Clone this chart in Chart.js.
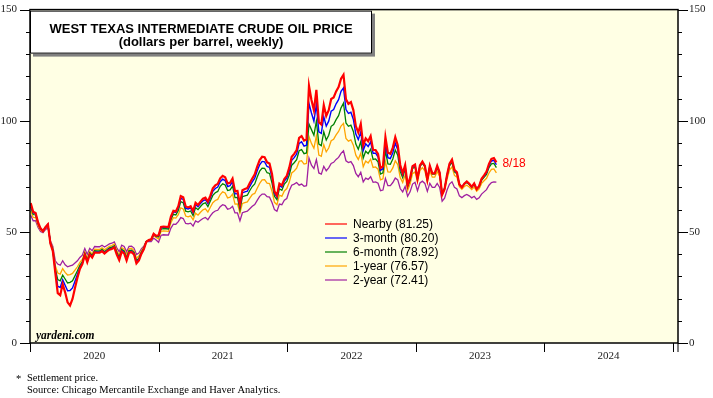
<!DOCTYPE html>
<html>
<head>
<meta charset="utf-8">
<script src="https://cdn.jsdelivr.net/npm/chart.js@4/dist/chart.umd.min.js"></script>
<style>
html, body { margin: 0; padding: 0; background: #fff; }
#wrap { width: 713px; height: 398px; }
</style>
</head>
<body>
<div id="wrap"><canvas id="oilChart" width="713" height="398"></canvas></div>
<script>
// weekly (Friday) settlement prices, first week 2020-01-03, last 2023-08-18
const firstWeek = Date.UTC(2020, 0, 3);

const nearby = [
  63.0, 59.0, 58.5, 54.2, 51.6, 50.3, 52.1, 53.4, 44.8, 41.3, 31.7, 22.4, 21.5, 26.5, 22.8, 18.3, 16.9, 19.8, 24.7, 29.4,
  33.3, 35.5, 39.6, 36.3, 39.8, 38.5, 40.7, 40.6, 40.6, 41.3, 40.3, 41.2, 42.0, 42.3, 43.0, 39.8, 37.3, 41.1, 40.3, 37.1,
  40.6, 40.9, 39.9, 35.8, 37.1, 40.1, 42.2, 45.5, 46.3, 46.6, 49.1, 48.2,
  48.5, 52.2, 52.4, 52.3, 52.2, 56.9, 59.5, 59.2, 61.5, 66.1, 65.6, 61.4, 61.0, 61.5, 59.3, 63.1, 62.1, 63.6, 64.9, 65.4,
  63.6, 66.3, 69.6, 70.9, 71.6, 74.1, 75.2, 74.6, 71.8, 72.1, 74.0, 68.3, 68.4, 62.3, 68.7, 69.3, 69.7, 72.0, 74.0, 75.9,
  79.4, 82.3, 83.8, 83.6, 81.3, 80.8, 76.1, 68.2, 66.3, 71.7, 70.9, 73.8, 75.2,
  78.9, 83.8, 85.1, 86.8, 92.3, 93.1, 91.1, 91.6, 115.7, 109.3, 104.7, 113.9, 99.3, 98.3, 107.0, 102.1, 104.7, 109.8, 110.5, 113.2,
  115.1, 118.9, 120.7, 109.6, 107.6, 108.4, 104.8, 97.6, 94.7, 98.6, 89.0, 92.1, 90.8, 93.1, 86.9, 86.8, 85.1, 78.7, 79.5, 92.6,
  85.6, 85.1, 87.9, 92.6, 89.0, 80.1, 76.3, 80.0, 71.0, 74.3, 79.6, 80.3,
  73.8, 79.9, 81.6, 79.7, 73.4, 79.7, 76.3, 76.3, 79.7, 76.7, 66.7, 69.3, 75.7, 80.7, 82.5, 77.9, 76.8, 71.3, 70.0, 71.7,
  72.7, 71.7, 70.2, 71.8, 69.2, 70.6, 73.9, 75.4, 77.1, 80.6, 82.8, 83.2, 81.25
];

const threeMonth = [
  62.4, 58.6, 58.2, 54.0, 51.5, 50.3, 52.1, 53.4, 44.9, 41.6, 32.4, 25.5, 25.0, 28.5, 26.0, 23.5, 23.6, 24.8, 27.8, 30.8,
  33.8, 35.8, 39.8, 36.6, 40.1, 38.8, 41.0, 40.9, 40.9, 41.6, 40.6, 41.5, 42.3, 42.6, 43.3, 40.2, 37.8, 41.5, 40.7, 37.6,
  41.0, 41.3, 40.3, 36.3, 37.5, 40.4, 42.4, 45.6, 46.3, 46.6, 49.0, 48.1,
  48.3, 51.9, 52.1, 52.0, 51.9, 56.5, 59.0, 58.7, 60.8, 65.1, 64.6, 60.6, 60.3, 60.8, 58.6, 62.3, 61.3, 62.8, 64.0, 64.5,
  62.8, 65.4, 68.3, 69.5, 70.2, 72.6, 73.7, 73.1, 70.4, 70.8, 72.6, 67.1, 67.2, 61.4, 67.5, 68.0, 68.3, 70.5, 72.5, 74.2,
  77.5, 80.2, 81.7, 81.5, 79.4, 79.0, 74.7, 67.4, 65.6, 70.8, 70.1, 72.9, 74.2,
  77.5, 82.2, 83.4, 85.0, 89.8, 90.5, 88.6, 89.0, 107.8, 103.5, 99.8, 107.3, 95.0, 94.3, 101.8, 97.6, 99.8, 104.3, 105.0, 107.6,
  109.5, 113.2, 114.8, 105.0, 103.3, 103.8, 100.6, 94.0, 91.5, 95.0, 86.6, 89.6, 88.4, 90.5, 85.4, 85.4, 83.8, 77.7, 78.4, 89.8,
  83.4, 83.0, 85.6, 89.9, 87.0, 79.0, 75.6, 79.5, 70.8, 74.0, 79.3, 80.0,
  73.9, 79.8, 81.4, 79.6, 73.5, 79.6, 76.3, 76.3, 79.5, 76.6, 67.0, 69.5, 75.6, 80.4, 82.1, 77.6, 76.6, 71.4, 70.2, 71.7,
  72.6, 71.6, 70.2, 71.7, 69.3, 70.6, 73.7, 75.1, 76.6, 79.9, 81.9, 82.2, 80.20
];

const sixMonth = [
  61.2, 57.8, 57.6, 53.6, 51.3, 50.2, 52.0, 53.3, 45.2, 42.0, 33.3, 28.5, 28.0, 30.5, 28.8, 27.0, 27.3, 28.0, 30.2, 32.5,
  35.0, 36.6, 40.3, 37.1, 40.6, 39.3, 41.5, 41.4, 41.4, 42.1, 41.1, 42.0, 42.8, 43.1, 43.8, 40.8, 38.5, 42.1, 41.3, 38.3,
  41.6, 41.8, 40.8, 37.0, 38.1, 40.8, 42.7, 45.7, 46.3, 46.5, 48.8, 47.9,
  47.8, 51.3, 51.5, 51.4, 51.3, 55.5, 57.9, 57.6, 59.6, 63.6, 63.1, 59.3, 59.0, 59.4, 57.3, 60.9, 60.0, 61.4, 62.6, 63.1,
  61.4, 63.9, 66.4, 67.6, 68.2, 70.5, 71.6, 71.1, 68.6, 68.9, 70.6, 65.4, 65.5, 59.8, 65.8, 66.2, 66.5, 68.6, 70.4, 71.6,
  74.7, 77.3, 78.7, 78.6, 76.6, 76.3, 72.0, 66.0, 64.5, 69.4, 68.7, 71.5, 72.7,
  75.6, 80.0, 81.1, 82.5, 86.5, 87.0, 85.2, 85.5, 98.5, 96.0, 93.5, 99.8, 89.5, 88.8, 95.0, 91.3, 93.5, 97.5, 98.3, 100.5,
  102.3, 105.8, 107.9, 99.0, 97.5, 98.0, 95.2, 89.5, 87.2, 90.6, 83.2, 86.3, 85.2, 87.2, 82.6, 82.8, 81.5, 76.0, 76.6, 86.5,
  80.6, 80.4, 82.8, 86.8, 84.5, 77.2, 74.4, 78.4, 70.2, 73.3, 78.5, 79.2,
  73.9, 79.4, 80.9, 79.2, 73.5, 79.2, 76.0, 76.0, 79.0, 76.3, 67.3, 69.7, 75.2, 79.7, 81.3, 77.0, 76.1, 71.3, 70.1, 71.4,
  72.2, 71.3, 70.0, 71.4, 69.2, 70.4, 73.2, 74.5, 75.8, 78.9, 80.6, 80.8, 78.92
];

const oneYear = [
  59.5, 56.5, 56.4, 52.8, 50.8, 50.0, 51.7, 52.9, 45.5, 42.6, 34.8, 31.5, 31.0, 33.5, 31.8, 30.6, 30.8, 31.3, 32.8, 34.3,
  36.3, 37.6, 41.0, 38.0, 41.3, 40.0, 42.2, 42.1, 42.1, 42.8, 41.9, 42.7, 43.5, 43.8, 44.5, 41.6, 39.5, 42.9, 42.2, 39.5,
  42.4, 42.6, 41.6, 38.2, 39.1, 41.5, 43.2, 45.8, 46.2, 46.3, 48.4, 47.5,
  46.8, 50.2, 50.4, 50.3, 50.2, 54.1, 56.4, 56.2, 57.7, 60.8, 60.3, 57.1, 56.8, 57.2, 55.4, 58.4, 57.5, 58.8, 59.9, 60.4,
  58.9, 61.1, 63.1, 64.1, 64.6, 66.8, 68.0, 67.5, 65.3, 65.6, 67.0, 62.5, 62.6, 58.5, 62.8, 63.2, 63.5, 65.2, 66.8, 67.3,
  69.6, 71.8, 73.4, 73.5, 71.9, 71.7, 68.3, 63.3, 62.2, 66.5, 66.0, 68.4, 69.5,
  72.3, 76.5, 77.4, 78.7, 81.7, 82.0, 80.5, 80.8, 92.9, 89.8, 87.6, 93.2, 84.6, 84.0, 89.2, 86.0, 87.7, 91.0, 91.7, 93.6,
  95.2, 97.6, 98.8, 92.0, 90.8, 91.4, 89.0, 84.5, 82.6, 85.4, 79.3, 81.9, 81.0, 82.7, 79.0, 79.2, 78.2, 73.4, 73.9, 81.7,
  77.0, 76.9, 78.8, 82.0, 80.3, 74.4, 72.2, 75.7, 68.6, 71.5, 76.2, 77.0,
  72.5, 77.6, 78.9, 77.4, 72.4, 77.3, 74.6, 74.6, 77.2, 74.9, 66.5, 68.7, 73.8, 77.8, 79.2, 75.4, 74.6, 70.3, 69.2, 70.4,
  71.0, 70.2, 69.0, 70.2, 68.3, 69.4, 71.8, 73.0, 74.1, 76.5, 78.1, 78.3, 76.57
];

const twoYear = [
  57.5, 55.0, 55.0, 52.0, 50.2, 49.6, 51.0, 52.0, 46.0, 43.5, 37.0, 35.5, 35.0, 37.0, 35.2, 34.3, 34.7, 35.0, 36.0, 37.0,
  38.5, 39.5, 42.5, 39.8, 42.6, 41.5, 43.4, 43.3, 43.3, 44.0, 43.2, 43.9, 44.6, 44.9, 45.5, 42.8, 41.0, 44.0, 43.4, 41.0,
  43.5, 43.6, 42.7, 39.8, 40.5, 42.3, 43.6, 45.6, 45.7, 45.6, 47.2, 46.3,
  45.3, 48.5, 48.7, 48.6, 48.6, 51.7, 53.5, 53.4, 54.6, 56.4, 56.0, 53.8, 53.6, 53.9, 52.6, 54.9, 54.3, 55.2, 56.0, 56.5,
  55.5, 57.2, 58.6, 59.4, 59.7, 61.3, 62.2, 61.8, 60.2, 60.5, 61.5, 58.5, 58.5, 55.0, 58.6, 59.0, 59.3, 60.4, 61.5, 62.3,
  64.2, 66.0, 67.0, 67.0, 65.8, 65.6, 63.2, 60.0, 59.3, 62.5, 62.2, 64.2, 65.0,
  68.5, 71.0, 71.5, 72.2, 71.0, 71.5, 70.5, 70.8, 83.2, 80.0, 78.5, 82.5, 76.5, 76.0, 79.5, 77.5, 78.8, 80.8, 81.3, 82.6,
  83.5, 85.3, 86.5, 82.0, 81.2, 81.6, 79.8, 76.3, 74.8, 76.8, 72.5, 74.2, 73.6, 74.8, 72.3, 72.5, 71.9, 68.5, 68.8, 74.0,
  70.8, 70.8, 72.2, 74.2, 73.4, 69.5, 68.0, 70.4, 66.0, 68.0, 71.5, 72.3,
  68.5, 72.0, 72.8, 71.8, 68.2, 71.8, 70.0, 70.0, 71.8, 70.0, 63.8, 65.2, 68.8, 71.5, 72.5, 70.0, 69.3, 66.2, 65.4, 66.3,
  66.8, 66.2, 65.3, 66.0, 64.6, 65.3, 67.0, 68.0, 69.0, 71.0, 72.2, 72.5, 72.41
];

const seriesNames = ['Nearby (81.25)', '3-month (80.20)', '6-month (78.92)', '1-year (76.57)', '2-year (72.41)'];
const seriesColors = ['#ff0000', '#0000ff', '#008000', '#ffa500', '#a020a0'];
const seriesWidths = [2.2, 1.4, 1.3, 1.3, 1.3];
const yearTicks = [2020, 2021, 2022, 2023, 2024, 2025];
const yearLabels = ['2020', '2021', '2022', '2023', '2024'];
const lastDateLabel = '8/18';

function weekToYear(i) {
  const d = new Date(firstWeek + i * 7 * 86400000);
  const y = d.getUTCFullYear();
  const start = Date.UTC(y, 0, 1), end = Date.UTC(y + 1, 0, 1);
  return y + (d.getTime() - start) / (end - start);
}

function toPoints(values) {
  return values.map((v, i) => ({ x: weekToYear(i), y: v }));
}

const allSeries = [nearby, threeMonth, sixMonth, oneYear, twoYear];

const chartDecor = {
  id: 'chartDecor',
  beforeDraw(chart) {
    const { ctx, chartArea: a } = chart;
    ctx.save();
    ctx.fillStyle = '#ffffe4';
    ctx.fillRect(a.left, a.top, a.right - a.left, a.bottom - a.top);
    ctx.restore();
  },
  afterDatasetsDraw(chart) {
    const { ctx, chartArea: a, scales } = chart;
    ctx.save();

    // frame
    ctx.strokeStyle = '#000';
    ctx.lineWidth = 1.5;
    ctx.strokeRect(a.left, a.top, a.right - a.left, a.bottom - a.top);

    // y tick marks, both sides
    ctx.lineWidth = 1;
    ctx.beginPath();
    for (let v = 0; v <= 150; v += 10) {
      const y = Math.round(scales.y.getPixelForValue(v)) + 0.5;
      const len = v % 50 === 0 ? 10 : 4;
      ctx.moveTo(a.left - len, y); ctx.lineTo(a.left, y);
      ctx.moveTo(a.right, y); ctx.lineTo(a.right + len, y);
    }
    // year boundary tick marks
    yearTicks.forEach(t => {
      const x = Math.round(scales.x.getPixelForValue(t)) + 0.5;
      ctx.moveTo(x, a.bottom); ctx.lineTo(x, a.bottom + 9);
    });
    ctx.moveTo(a.right, a.bottom); ctx.lineTo(a.right, a.bottom + 9);
    ctx.stroke();

    // title box
    const bx = a.left, by = a.top + 1, bw = 342, bh = 43;
    ctx.fillStyle = '#808080';
    ctx.fillRect(bx + 3, by + 3, bw, bh);
    ctx.fillStyle = '#fff';
    ctx.fillRect(bx, by, bw, bh);
    ctx.strokeStyle = '#000';
    ctx.lineWidth = 1;
    ctx.strokeRect(bx + 0.5, by + 0.5, bw - 1, bh - 1);
    ctx.fillStyle = '#000';
    ctx.font = 'bold 13px "Liberation Sans", Arial, sans-serif';
    ctx.textAlign = 'center';
    ctx.textBaseline = 'alphabetic';
    ctx.fillText('WEST TEXAS INTERMEDIATE CRUDE OIL PRICE', bx + bw / 2, by + 22);
    ctx.fillText('(dollars per barrel, weekly)', bx + bw / 2, by + 35);

    // legend
    ctx.font = '12px "Liberation Sans", Arial, sans-serif';
    ctx.textAlign = 'left';
    ctx.textBaseline = 'middle';
    chart.data.datasets.forEach((ds, i) => {
      const ly = 224 + i * 14;
      ctx.strokeStyle = ds.borderColor;
      ctx.globalAlpha = 0.75;
      ctx.lineWidth = 1.6;
      ctx.beginPath();
      ctx.moveTo(325, ly); ctx.lineTo(347, ly);
      ctx.stroke();
      ctx.globalAlpha = 1;
      ctx.fillStyle = '#000';
      ctx.fillText(ds.label, 353, ly + 1);
    });

    // last date label next to the nearby line
    const meta = chart.getDatasetMeta(0);
    const last = meta.data[meta.data.length - 1];
    ctx.fillStyle = '#ff0000';
    ctx.fillText(lastDateLabel, last.x + 6, last.y + 1);

    // site mark
    ctx.fillStyle = '#000';
    ctx.font = 'bold italic 11.5px "Liberation Serif", "Times New Roman", serif';
    ctx.textBaseline = 'alphabetic';
    ctx.fillText('yardeni.com', a.left + 6, a.bottom - 4);

    // footnotes
    ctx.font = '10.5px "Liberation Serif", "Times New Roman", serif';
    ctx.fillText('*', 16, 382);
    ctx.fillText('Settlement price.', 27, 381);
    ctx.fillText('Source: Chicago Mercantile Exchange and Haver Analytics.', 27, 393);
    ctx.restore();
  }
};

const tickFont = { family: '"Liberation Serif", "Times New Roman", serif', size: 11 };

const chartNode = document.getElementById('oilChart').getContext('2d');
const oilChart = new Chart(chartNode, {
  type: 'line',
  data: {
    datasets: allSeries.map((values, i) => ({
      label: seriesNames[i],
      data: toPoints(values),
      borderColor: seriesColors[i],
      backgroundColor: seriesColors[i],
      borderWidth: seriesWidths[i],
      pointRadius: 0,
      tension: 0,
      fill: false
    }))
  },
  options: {
    responsive: false,
    animation: false,
    layout: { padding: { top: 7, left: 0, right: 0, bottom: 0 } },
    plugins: { legend: { display: false }, tooltip: { enabled: false } },
    scales: {
      x: {
        type: 'linear',
        position: 'bottom',
        min: 2020,
        max: 2025.04,
        grid: { display: false, drawTicks: true, tickLength: 5 },
        border: { display: false },
        afterBuildTicks: scale => {
          scale.ticks = yearLabels.map((l, i) => ({ value: yearTicks[i] + 0.5 }));
        },
        ticks: {
          autoSkip: false,
          maxRotation: 0,
          padding: 2,
          color: '#222',
          font: tickFont,
          callback: (v) => yearLabels[Math.floor(v) - yearTicks[0]]
        },
        afterFit: scale => { scale.height = 55; }
      },
      y: {
        position: 'left',
        min: 0,
        max: 150,
        grid: { display: false, drawTicks: true, tickLength: 10 },
        border: { display: false },
        ticks: { stepSize: 50, padding: 3, color: '#222', font: tickFont },
        afterFit: scale => { scale.width = 30; }
      },
      y2: {
        position: 'right',
        min: 0,
        max: 150,
        grid: { display: false, drawTicks: true, tickLength: 10 },
        border: { display: false },
        ticks: { stepSize: 50, padding: 1, color: '#222', font: tickFont },
        afterFit: scale => { scale.width = 35; }
      }
    }
  },
  plugins: [chartDecor]
});
</script>
</body>
</html>
